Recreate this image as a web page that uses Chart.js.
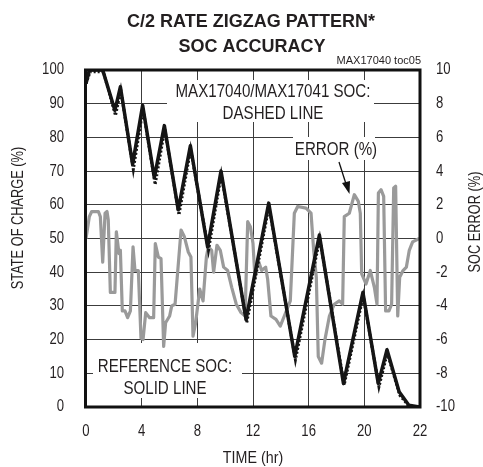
<!DOCTYPE html>
<html><head><meta charset="utf-8">
<script src="https://cdn.jsdelivr.net/npm/chart.js@4/dist/chart.umd.min.js"></script>
<style>html,body{margin:0;padding:0;background:#fff;}#wrap{width:483px;height:467px;}</style>
</head><body><div id="wrap"><canvas id="c" width="483" height="467"></canvas></div>
<script>
// ---- data (time axis drawn 0..24 units, last tick labelled "22" as in the original) ----
const xTickLabels = ['0','4','8','12','16','20','22'];

const refTime = [0, 0.24, 1.2, 2.08, 2.47, 3.35, 4.07, 4.91, 5.63, 6.63, 7.5, 8.74, 9.7, 11.5, 13.13, 15.0, 16.77, 18.5, 19.9, 21.0, 21.63, 22.5, 23.2, 23.95];
const refSOC  = [96, 100, 100, 88, 95, 72, 89.5, 68, 83.5, 58.5, 77.5, 47.5, 70, 26, 60.5, 15, 51, 7, 34, 7, 17, 4.5, 0.5, 0];

const modelTime = [0, 0.3, 1.25, 2.12, 2.5, 3.4, 4.1, 4.97, 5.66, 6.68, 7.52, 8.8, 9.72, 11.55, 13.15, 15.05, 16.8, 18.55, 19.92, 21.05, 21.65, 22.55, 23.25, 23.95];
const modelSOC  = [96, 99.5, 99.5, 86.5, 94, 70.5, 88.5, 66, 82.5, 57, 76.5, 46.5, 69, 25, 59.5, 14, 50, 6.5, 33, 6, 16, 3.5, 0, 0];

const errTime = [0, 0.24, 0.41, 0.89, 1.03, 1.2, 1.37, 1.51, 1.6, 1.75,
 2.08, 2.18, 2.37, 2.47, 2.61, 2.8, 2.99, 3.19, 3.38, 3.52,
 3.76, 3.95, 4.1, 4.29, 4.57, 4.86, 4.98, 5.2, 5.39, 5.58,
 5.72, 6.01, 6.16, 6.4, 6.83, 7.07, 7.35, 7.54, 7.69, 7.88,
 8.17, 8.41, 8.65, 8.79, 9.03, 9.17, 9.41, 9.65, 9.89, 10.18,
 10.47, 10.8, 11.14, 11.43, 11.62, 11.81, 12.0, 12.14, 12.38, 12.62,
 12.91, 13.05, 13.29, 13.65, 13.96, 14.25, 14.68, 14.97, 15.21, 15.81,
 16.17, 16.36, 16.55, 16.69, 16.93, 17.17, 17.49, 17.84, 18.2, 18.44,
 18.56, 18.92, 19.28, 19.57, 19.71, 19.81, 20.12, 20.43, 20.72, 20.91,
 21.01, 21.2, 21.39, 21.53, 21.77, 21.96, 22.11, 22.25, 22.4, 22.54,
 22.78, 23.02, 23.23, 23.47, 23.95];
const errValues = [0, 1.3, 1.6, 1.6, 1.3, -1.4, 1.5, 1.6, 1.1, -3.2,
 -3.2, 0.4, -0.9, -0.7, -4.3, -4.3, -4.7, -4.3, -0.5, -1.9,
 -1.9, -5.9, -6.0, -4.4, -4.7, -4.7, -0.3, -1.1, -1.2, -6.4,
 -5.0, -4.6, -4.0, -3.9, 0.5, 0.1, -0.8, -1.1, -5.8, -5.0,
 -3.0, -3.7, -1.1, -0.5, -0.7, -2.0, -0.4, -0.7, -1.7, -1.9,
 -2.9, -3.9, -4.4, -4.6, 1.0, 0.7, -0.3, -2.3, -1.3, -1.9,
 -1.7, -2.4, -4.6, -4.8, -5.2, -4.6, -3.7, 1.5, 1.9, 1.8,
 1.5, -0.7, -2.3, -7.0, -7.4, -6.0, -4.6, -3.9, -3.7, -3.9,
 1.3, 1.5, 2.6, 2.2, 1.5, -2.1, -2.7, -1.9, -2.9, -3.9,
 2.7, 2.9, 2.5, -4.3, -4.3, -3.9, 3.0, 3.1, -4.6, -2.3,
 -1.9, -1.7, -0.7, -0.2, 0];

// ---- rendering ----
const SANS = '"Liberation Sans", Arial, sans-serif';
const TXT = '#231f20';
const pts = (xs, ys) => xs.map((x, i) => ({x, y: ys[i]}));

// condensed text (the original uses a narrow Helvetica)
function nText(c, text, x, y, sx, rot) {
  c.save();
  c.translate(x, y);
  if (rot) c.rotate(rot);
  c.scale(sx, 1);
  c.fillText(text, 0, 0);
  c.restore();
}

const decor = {
  id: 'decor',
  beforeDraw(chart) {
    // tick labels are drawn by Chart.js; render them condensed
    const c = chart.ctx;
    if (!c._origFill) c._origFill = c.fillText;
    c.fillText = function (t, x, y) {
      this.save(); this.translate(x, y); this.scale(0.82, 1);
      this._origFill.call(this, t, 0, 0);
      this.restore();
    };
  },
  beforeDatasetsDraw(chart) {
    const c = chart.ctx;
    if (c._origFill) c.fillText = c._origFill;
    c.save();
    c.fillStyle = '#fff';
    c.fillRect(167, 80, 207, 42);   // behind MAX17040 text
    c.fillRect(293, 137, 82, 23);   // behind ERROR (%)
    c.fillRect(93, 343, 149, 55);   // behind REFERENCE SOC
    c.restore();
  },
  afterDatasetsDraw(chart) {
    const c = chart.ctx, a = chart.chartArea;
    c.save();
    c.strokeStyle = '#111';
    c.lineWidth = 3;
    c.strokeRect(a.left - 0.5, a.top, a.right - a.left + 0.5, a.bottom - a.top);
    c.fillStyle = TXT;
    c.font = '18px ' + SANS;
    c.textAlign = 'center';
    c.textBaseline = 'alphabetic';
    nText(c, 'MAX17040/MAX17041 SOC:', 273, 97, 0.84);
    nText(c, 'DASHED LINE', 273, 119, 0.84);
    nText(c, 'ERROR (%)', 336, 155, 0.84);
    nText(c, 'REFERENCE SOC:', 165, 372, 0.84);
    nText(c, 'SOLID LINE', 165, 394, 0.84);
    // arrow
    c.strokeStyle = '#111';
    c.lineWidth = 1.3;
    c.beginPath(); c.moveTo(339, 162); c.lineTo(346, 184); c.stroke();
    c.beginPath();
    c.moveTo(349.5, 194); c.lineTo(342, 183); c.lineTo(350, 181); c.closePath();
    c.fillStyle = '#111'; c.fill();
    c.restore();
  },
  afterDraw(chart) {
    const c = chart.ctx;
    c.save();
    c.fillStyle = TXT;
    c.textAlign = 'center';
    c.textBaseline = 'alphabetic';
    c.font = 'bold 18px ' + SANS;
    c.fillText('C/2 RATE ZIGZAG PATTERN*', 251, 27);
    c.fillText('SOC ACCURACY', 252, 52);
    c.font = '11px ' + SANS;
    c.textAlign = 'right';
    c.fillText('MAX17040 toc05', 421, 64);
    c.textAlign = 'center';
    c.font = '17px ' + SANS;
    nText(c, 'TIME (hr)', 253, 463, 0.84);
    c.font = '16px ' + SANS;
    nText(c, 'STATE OF CHARGE (%)', 23, 218, 0.8, -Math.PI / 2);
    nText(c, 'SOC ERROR (%)', 480, 222, 0.8, -Math.PI / 2);
    c.restore();
  }
};

const gridStyle = {color: '#3c3c3c', lineWidth: 1, drawTicks: false};
const tickFont = {family: SANS, size: 16};

new Chart(document.getElementById('c'), {
  type: 'line',
  data: {
    datasets: [
      {label: 'Reference SOC', data: pts(refTime, refSOC), yAxisID: 'y',
       borderColor: '#151515', borderWidth: 3.5, pointRadius: 0, tension: 0, borderJoinStyle: 'round'},
      {label: 'MAX17040/MAX17041 SOC', data: pts(modelTime, modelSOC), yAxisID: 'y',
       borderColor: '#151515', borderWidth: 3, borderDash: [2, 2], pointRadius: 0, tension: 0},
      {label: 'Error (%)', data: pts(errTime, errValues), yAxisID: 'y2',
       borderColor: '#9a9a9a', borderWidth: 3.2, pointRadius: 0, tension: 0, borderJoinStyle: 'round'}
    ]
  },
  options: {
    responsive: false, animation: false,
    layout: {padding: {top: 70, left: 0, right: 0, bottom: 0}},
    plugins: {legend: {display: false}, tooltip: {enabled: false}},
    scales: {
      x: {type: 'linear', min: 0, max: 24,
          afterFit(s) { s.height = 60; },
          ticks: {stepSize: 4, padding: 15, font: tickFont, color: TXT, maxRotation: 0,
                  callback: (v, i) => xTickLabels[i] ?? ''},
          grid: gridStyle, border: {display: false}},
      y: {position: 'left', min: 0, max: 100,
          afterFit(s) { s.width = 86; },
          ticks: {stepSize: 10, padding: 22, font: tickFont, color: TXT},
          grid: gridStyle, border: {display: false}},
      y2: {position: 'right', min: -10, max: 10,
           afterFit(s) { s.width = 63; },
           ticks: {stepSize: 2, padding: 16, font: tickFont, color: TXT},
           grid: {display: false, drawTicks: false}, border: {display: false}}
    }
  },
  plugins: [decor]
});
</script>
</body></html>
